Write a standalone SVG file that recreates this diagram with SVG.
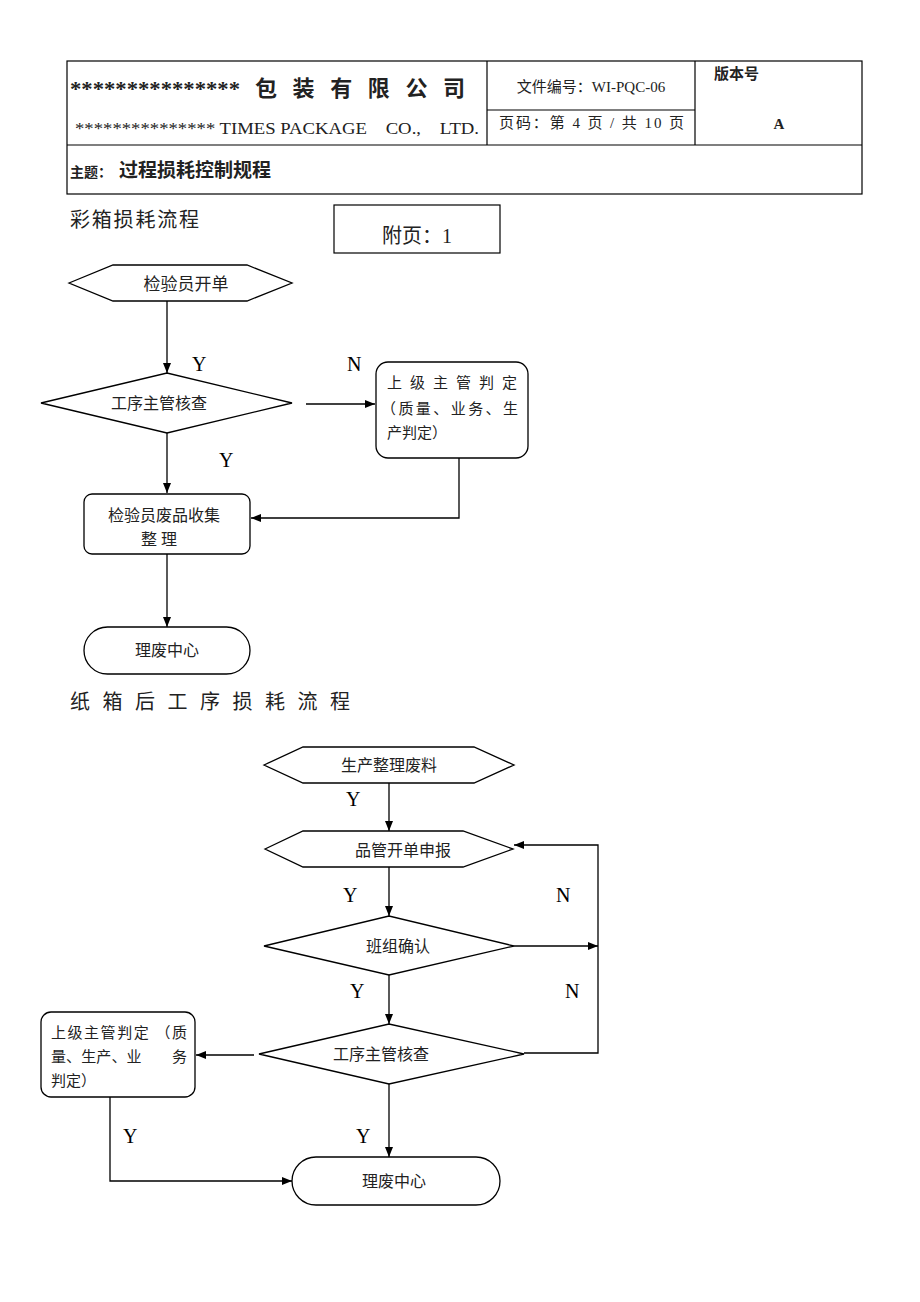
<svg xmlns="http://www.w3.org/2000/svg" width="920" height="1302" viewBox="0 0 920 1302">
<style>
.ln{fill:none;stroke:#000;stroke-width:1.3}
.sh{fill:#fff;stroke:#000;stroke-width:1.3}
.tb{fill:none;stroke:#000;stroke-width:1.2}
.t{font-family:"Liberation Serif","Noto Sans CJK SC",serif;fill:#222}
.c{text-anchor:middle}
.yn{font-family:"Liberation Serif",serif;font-size:20px;fill:#000}
</style>
<defs>
<marker id="ah" markerWidth="10" markerHeight="10" refX="10" refY="5" orient="auto" markerUnits="userSpaceOnUse">
<path d="M0,1 L10,5 L0,9 Z" fill="#000"/>
</marker>
</defs>
<rect width="920" height="1302" fill="#fff"/>
<g id="header">
<rect class="tb" x="67" y="61" width="795" height="133"/>
<line class="tb" x1="67" y1="145" x2="862" y2="145"/>
<line class="tb" x1="487" y1="61" x2="487" y2="145"/>
<line class="tb" x1="695" y1="61" x2="695" y2="145"/>
<line class="tb" x1="487" y1="110" x2="695" y2="110"/>
<text class="t" x="70" y="96" font-size="20" font-weight="bold" fill="#000" textLength="170" lengthAdjust="spacingAndGlyphs">***************</text>
<text class="t" x="255" y="96" font-size="22" font-weight="bold" textLength="210" lengthAdjust="spacing">包 装 有 限 公 司</text>
<text class="t" x="75" y="134" font-size="17" textLength="404" lengthAdjust="spacingAndGlyphs">*************** TIMES PACKAGE　CO.,　LTD.</text>
<text class="t c" x="591" y="92" font-size="15" fill="#333">文件编号：WI-PQC-06</text>
<text class="t" x="499" y="128" font-size="15" fill="#333" textLength="185" lengthAdjust="spacing">页码：第 4 页 / 共 10 页</text>
<text class="t" x="714" y="79" font-size="15" font-weight="bold">版本号</text>
<text class="t c" x="779" y="129" font-size="15" font-weight="bold">A</text>
<text class="t" x="70" y="177" font-size="14" font-weight="bold">主题：</text>
<text class="t" x="119" y="177" font-size="19" font-weight="bold">过程损耗控制规程</text>
</g>
<g id="title1">
<text class="t" x="70" y="227" font-size="20" textLength="129" lengthAdjust="spacing">彩箱损耗流程</text>
</g>
<g id="appendix">
<rect class="tb" x="334" y="205" width="166" height="48"/>
<text class="t c" x="417" y="243" font-size="20">附页：1</text>
</g>
<g id="connectors">
<line class="ln" x1="167" y1="301" x2="167" y2="373" marker-end="url(#ah)"/>
<line class="ln" x1="306" y1="404" x2="375" y2="404" marker-end="url(#ah)"/>
<line class="ln" x1="167" y1="433" x2="167" y2="493" marker-end="url(#ah)"/>
<polyline class="ln" points="459,458 459,518 251,518" marker-end="url(#ah)"/>
<line class="ln" x1="167" y1="554" x2="167" y2="627" marker-end="url(#ah)"/>
<line class="ln" x1="389" y1="783" x2="389" y2="831" marker-end="url(#ah)"/>
<line class="ln" x1="389" y1="867" x2="389" y2="916" marker-end="url(#ah)"/>
<line class="ln" x1="514" y1="946" x2="598" y2="946" marker-end="url(#ah)"/>
<polyline class="ln" points="524,1053 598,1053 598,845 514,845" marker-end="url(#ah)"/>
<line class="ln" x1="389" y1="975" x2="389" y2="1024" marker-end="url(#ah)"/>
<line class="ln" x1="254" y1="1055" x2="196" y2="1055" marker-end="url(#ah)"/>
<line class="ln" x1="389" y1="1084" x2="389" y2="1157" marker-end="url(#ah)"/>
<polyline class="ln" points="110,1097 110,1181 292,1181" marker-end="url(#ah)"/>
<text class="yn" x="192" y="371">Y</text>
<text class="yn" x="347" y="371">N</text>
<text class="yn" x="219" y="467">Y</text>
<text class="yn" x="346" y="806">Y</text>
<text class="yn" x="343" y="902">Y</text>
<text class="yn" x="556" y="902">N</text>
<text class="yn" x="350" y="998">Y</text>
<text class="yn" x="565" y="998">N</text>
<text class="yn" x="123" y="1143">Y</text>
<text class="yn" x="356" y="1143">Y</text>
</g>
<g id="n1">
<polygon class="sh" points="69,283 113,265 247,265 292,283 247,301 113,301"/>
<text class="t c" x="186" y="290" font-size="17">检验员开单</text>
</g>
<g id="n2">
<polygon class="sh" points="41,403 167,373 292,403 167,433"/>
<text class="t c" x="159" y="409" font-size="16">工序主管核查</text>
</g>
<g id="n3">
<rect class="sh" x="376" y="362" width="152" height="96" rx="12"/>
<text class="t" x="387" y="388" font-size="15" textLength="130" lengthAdjust="spacing">上 级 主 管 判 定</text>
<text class="t" x="381" y="414" font-size="15" textLength="137" lengthAdjust="spacing">（质量、业务、生</text>
<text class="t" x="387" y="438" font-size="15">产判定）</text>
</g>
<g id="n4">
<rect class="sh" x="84" y="494" width="166" height="60" rx="8"/>
<text class="t c" x="164" y="521" font-size="16">检验员废品收集</text>
<text class="t c" x="159" y="545" font-size="16">整 理</text>
</g>
<g id="n5">
<rect class="sh" x="84" y="627" width="166" height="47" rx="23.5"/>
<text class="t c" x="167" y="656" font-size="16">理废中心</text>
</g>
<g id="title2">
<text class="t" x="70" y="709" font-size="20" textLength="280" lengthAdjust="spacing">纸 箱 后 工 序 损 耗 流 程</text>
</g>
<g id="m1">
<polygon class="sh" points="264,765 303,747 474,747 514,765 474,783 303,783"/>
<text class="t c" x="389" y="771" font-size="16">生产整理废料</text>
</g>
<g id="m2">
<polygon class="sh" points="265,849 303,831 463,831 513,849 463,867 303,867"/>
<text class="t c" x="403" y="856" font-size="16">品管开单申报</text>
</g>
<g id="m3">
<polygon class="sh" points="264,946 389,916 514,946 389,975"/>
<text class="t c" x="398" y="952" font-size="16">班组确认</text>
</g>
<g id="m4">
<polygon class="sh" points="259,1054 389,1024 524,1054 389,1084"/>
<text class="t c" x="381" y="1060" font-size="16">工序主管核查</text>
</g>
<g id="m5">
<rect class="sh" x="41" y="1012" width="154" height="85" rx="10"/>
<text class="t" x="51" y="1038" font-size="15" textLength="136" lengthAdjust="spacing">上级主管判定 （质</text>
<text class="t" x="51" y="1062" font-size="15" textLength="136" lengthAdjust="spacing">量、生产、业　　务</text>
<text class="t" x="51" y="1086" font-size="15">判定）</text>
</g>
<g id="m6">
<rect class="sh" x="292" y="1157" width="208" height="48" rx="24"/>
<text class="t c" x="394" y="1187" font-size="16">理废中心</text>
</g>
</svg>
